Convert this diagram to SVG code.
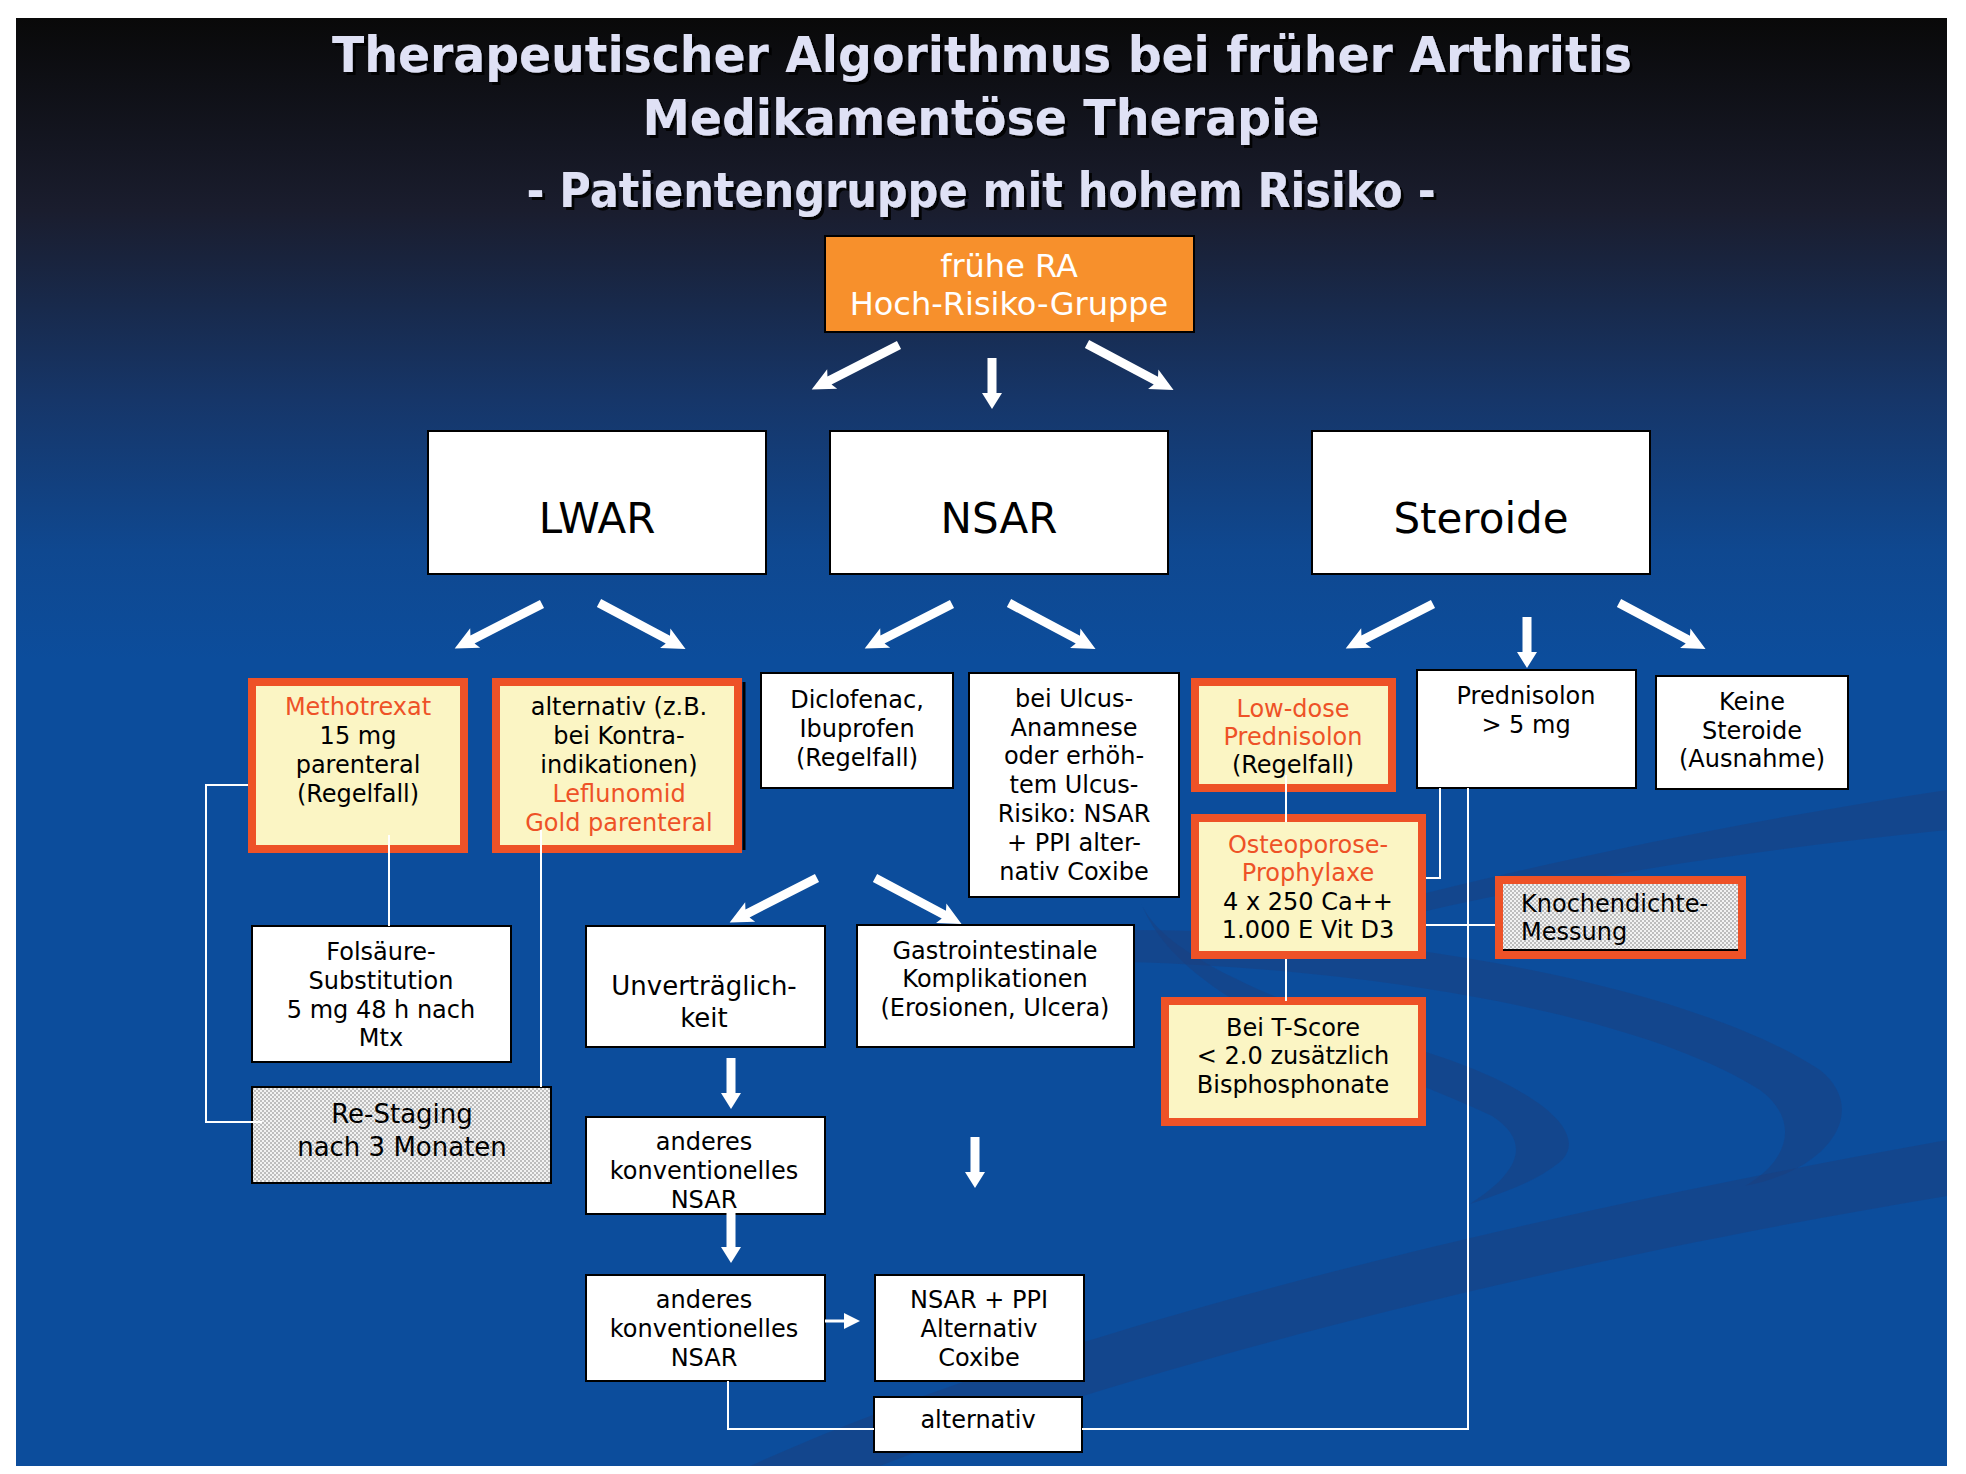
<svg xmlns="http://www.w3.org/2000/svg" xmlns:xlink="http://www.w3.org/1999/xlink" width="1966" height="1474" viewBox="0 0 1966 1474">
<style>
.t{font-family:'DejaVu Sans',Verdana,sans-serif;font-size:24px;fill:#000;text-anchor:middle}
.r{fill:#ee5227}
.big{font-size:42px}
.top{font-size:32px;fill:#fff}
.m{font-size:26px}
.box{fill:#fff;stroke:#000;stroke-width:2}
.obox{fill:#fbf5c4;stroke:#ee5227;stroke-width:8}
.ln{stroke:#fff;stroke-width:2;fill:none}
.arr{fill:#fff}
.title{font-family:'DejaVu Sans',Verdana,sans-serif;font-weight:bold;fill:#dfe1f5;text-anchor:middle;filter:url(#sh)}
.sw{fill:#1d3f7c;opacity:0.45}
</style>
<defs>
<linearGradient id="bg" gradientUnits="userSpaceOnUse" x1="0" y1="18" x2="0" y2="660">
<stop offset="0" stop-color="#090909"/>
<stop offset="0.3" stop-color="#1a1d2e"/>
<stop offset="0.595" stop-color="#163669"/>
<stop offset="0.83" stop-color="#0f4890"/>
<stop offset="1" stop-color="#0c4d9c"/>
</linearGradient>
<filter id="sh" x="-5%" y="-20%" width="110%" height="140%">
<feDropShadow dx="3" dy="3" stdDeviation="0.6" flood-color="#000" flood-opacity="0.9"/>
</filter>
<pattern id="dither" width="4" height="4" patternUnits="userSpaceOnUse">
<rect width="4" height="4" fill="#f2f2f2"/>
<rect width="2" height="2" fill="#bdbdbd"/>
<rect x="2" y="2" width="2" height="2" fill="#bdbdbd"/>
</pattern>
<path id="ad" d="M0,-4.5 H78 L75,-11 L98,0 L75,11 L78,4.5 H0 Z"/>
<path id="av" d="M-4.5,0 V35 H-10 L0,51 L10,35 H4.5 V0 Z"/>
</defs>

<rect width="1966" height="1474" fill="#fff"/>
<rect x="16" y="18" width="1931" height="1448" fill="url(#bg)"/>
<g id="swooshes">
<path class="sw" d="M1380 905 C1550 860 1750 820 1947 790 L1947 830 C1750 850 1550 880 1380 922 Z"/>
<path class="sw" d="M1130 930 C1400 930 1700 990 1820 1070 C1870 1110 1830 1170 1745 1186 C1790 1160 1800 1120 1760 1090 C1650 1020 1400 970 1130 962 Z"/>
<path class="sw" d="M1140 900 C1160 960 1300 1010 1450 1060 C1560 1100 1585 1140 1560 1162 C1535 1182 1505 1192 1470 1204 C1520 1172 1532 1142 1492 1116 C1380 1062 1180 1012 1140 900 Z"/>
<path class="sw" d="M750 1466 C1050 1330 1500 1220 1947 1140 L1947 1196 C1500 1270 1100 1380 880 1466 Z"/>
</g>

<g id="title">
<text class="title" x="982" y="72" font-size="50" textLength="1300" lengthAdjust="spacingAndGlyphs">Therapeutischer Algorithmus bei früher Arthritis</text>
<text class="title" x="981" y="135" font-size="50" textLength="677" lengthAdjust="spacingAndGlyphs">Medikamentöse Therapie</text>
<text class="title" x="981" y="207" font-size="48" textLength="909" lengthAdjust="spacingAndGlyphs">- Patientengruppe mit hohem Risiko -</text>
</g>

<g id="node-fruehe-ra">
<rect x="825" y="236" width="369" height="96" fill="#f7902c" stroke="#000" stroke-width="2"/>
<text class="t top" x="1009" y="277">frühe RA</text>
<text class="t top" x="1009" y="315">Hoch-Risiko-Gruppe</text>
</g>

<g id="node-lwar">
<rect class="box" x="428" y="431" width="338" height="143"/>
<text class="t big" x="597" y="533">LWAR</text>
</g>
<g id="node-nsar">
<rect class="box" x="830" y="431" width="338" height="143"/>
<text class="t big" x="999" y="533">NSAR</text>
</g>
<g id="node-steroide">
<rect class="box" x="1312" y="431" width="338" height="143"/>
<text class="t big" x="1481" y="533">Steroide</text>
</g>

<g id="node-methotrexat">
<rect class="obox" x="252" y="682" width="212" height="167"/>
<text class="t r" x="358" y="715">Methotrexat</text>
<text class="t" x="358" y="744">15 mg</text>
<text class="t" x="358" y="773">parenteral</text>
<text class="t" x="358" y="802">(Regelfall)</text>
</g>

<g id="node-alternativ-lwar">
<line x1="744" y1="682" x2="744" y2="850" stroke="#000" stroke-width="3"/>
<rect class="obox" x="496" y="682" width="242" height="167"/>
<text class="t" x="619" y="715">alternativ (z.B.</text>
<text class="t" x="619" y="744">bei Kontra-</text>
<text class="t" x="619" y="773">indikationen)</text>
<text class="t r" x="619" y="802">Leflunomid</text>
<text class="t r" x="619" y="831">Gold parenteral</text>
</g>

<g id="node-diclofenac">
<rect class="box" x="761" y="673" width="192" height="115"/>
<text class="t" x="857" y="708">Diclofenac,</text>
<text class="t" x="857" y="737">Ibuprofen</text>
<text class="t" x="857" y="766">(Regelfall)</text>
</g>

<g id="node-ulcus">
<rect class="box" x="969" y="673" width="210" height="224"/>
<text class="t" x="1074" y="707">bei Ulcus-</text>
<text class="t" x="1074" y="736">Anamnese</text>
<text class="t" x="1074" y="764">oder erhöh-</text>
<text class="t" x="1074" y="793">tem Ulcus-</text>
<text class="t" x="1074" y="822">Risiko: NSAR</text>
<text class="t" x="1074" y="851">+ PPI alter-</text>
<text class="t" x="1074" y="880">nativ Coxibe</text>
</g>

<g id="node-lowdose">
<rect class="obox" x="1195" y="682" width="197" height="106"/>
<text class="t r" x="1293" y="717">Low-dose</text>
<text class="t r" x="1293" y="745">Prednisolon</text>
<text class="t" x="1293" y="773">(Regelfall)</text>
</g>

<g id="node-prednisolon">
<rect class="box" x="1417" y="670" width="219" height="118"/>
<text class="t" x="1526" y="704">Prednisolon</text>
<text class="t" x="1526" y="733">&gt; 5 mg</text>
</g>

<g id="node-keine">
<rect class="box" x="1656" y="676" width="192" height="113"/>
<text class="t" x="1752" y="710">Keine</text>
<text class="t" x="1752" y="739">Steroide</text>
<text class="t" x="1752" y="767">(Ausnahme)</text>
</g>

<g id="node-osteoporose">
<rect class="obox" x="1195" y="818" width="227" height="137"/>
<text class="t r" x="1308" y="853">Osteoporose-</text>
<text class="t r" x="1308" y="881">Prophylaxe</text>
<text class="t" x="1308" y="910">4 x 250 Ca++</text>
<text class="t" x="1308" y="938">1.000 E Vit D3</text>
</g>

<g id="node-tscore">
<rect class="obox" x="1165" y="1001" width="257" height="121"/>
<text class="t" x="1293" y="1036">Bei T-Score</text>
<text class="t" x="1293" y="1064">&lt; 2.0 zusätzlich</text>
<text class="t" x="1293" y="1093">Bisphosphonate</text>
</g>

<g id="node-knochendichte">
<rect x="1499" y="880" width="243" height="75" fill="url(#dither)" stroke="#ee5227" stroke-width="8"/>
<line x1="1503" y1="950" x2="1738" y2="950" stroke="#000" stroke-width="2"/>
<text class="t" x="1521" y="912" style="text-anchor:start">Knochendichte-</text>
<text class="t" x="1521" y="940" style="text-anchor:start">Messung</text>
</g>

<g id="node-folsaeure">
<rect class="box" x="252" y="926" width="259" height="136"/>
<text class="t" x="381" y="960">Folsäure-</text>
<text class="t" x="381" y="989">Substitution</text>
<text class="t" x="381" y="1018">5 mg 48 h nach</text>
<text class="t" x="381" y="1046">Mtx</text>
</g>

<g id="node-restaging">
<rect x="252" y="1087" width="299" height="96" fill="url(#dither)" stroke="#000" stroke-width="2"/>
<text class="t m" x="402" y="1123">Re-Staging</text>
<text class="t m" x="402" y="1156">nach 3 Monaten</text>
</g>

<g id="node-unvertraeglichkeit">
<rect class="box" x="586" y="926" width="239" height="121"/>
<text class="t m" x="704" y="995">Unverträglich-</text>
<text class="t m" x="704" y="1027">keit</text>
</g>

<g id="node-gastro">
<rect class="box" x="857" y="925" width="277" height="122"/>
<text class="t" x="995" y="959">Gastrointestinale</text>
<text class="t" x="995" y="987">Komplikationen</text>
<text class="t" x="995" y="1016">(Erosionen, Ulcera)</text>
</g>

<g id="node-anderes1">
<rect class="box" x="586" y="1117" width="239" height="97"/>
<text class="t" x="704" y="1150">anderes</text>
<text class="t" x="704" y="1179">konventionelles</text>
<text class="t" x="704" y="1208">NSAR</text>
</g>

<g id="node-anderes2">
<rect class="box" x="586" y="1275" width="239" height="106"/>
<text class="t" x="704" y="1308">anderes</text>
<text class="t" x="704" y="1337">konventionelles</text>
<text class="t" x="704" y="1366">NSAR</text>
</g>

<g id="node-nsar-ppi">
<rect class="box" x="875" y="1275" width="209" height="106"/>
<text class="t" x="979" y="1308">NSAR + PPI</text>
<text class="t" x="979" y="1337">Alternativ</text>
<text class="t" x="979" y="1366">Coxibe</text>
</g>

<g id="node-alternativ">
<rect class="box" x="874" y="1397" width="208" height="55"/>
<text class="t" x="978" y="1428">alternativ</text>
</g>

<g id="connectors">
<g class="arr">
<use href="#ad" transform="translate(899,345) rotate(153)"/>
<use href="#av" transform="translate(992,358)"/>
<use href="#ad" transform="translate(1087,344) rotate(28)"/>
<use href="#ad" transform="translate(542,604) rotate(153)"/>
<use href="#ad" transform="translate(599,603) rotate(28)"/>
<use href="#ad" transform="translate(952,604) rotate(153)"/>
<use href="#ad" transform="translate(1009,603) rotate(28)"/>
<use href="#ad" transform="translate(1433,604) rotate(153)"/>
<use href="#av" transform="translate(1527,617)"/>
<use href="#ad" transform="translate(1619,603) rotate(28)"/>
<use href="#ad" transform="translate(817,878) rotate(153)"/>
<use href="#ad" transform="translate(875,878) rotate(28)"/>
<use href="#av" transform="translate(731,1058)"/>
<use href="#av" transform="translate(975,1137)"/>
<use href="#av" transform="translate(731,1212)"/>
<rect x="825" y="1319.5" width="20" height="3"/>
<polygon points="844,1313 860,1321 844,1329"/>
</g>
<polyline class="ln" points="248,785 206,785 206,1122 262,1122"/>
<line class="ln" x1="389" y1="835" x2="389" y2="926"/>
<line class="ln" x1="541" y1="830" x2="541" y2="1087"/>
<line class="ln" x1="1286" y1="775" x2="1286" y2="822"/>
<line class="ln" x1="1286" y1="959" x2="1286" y2="1001"/>
<polyline class="ln" points="1440,788 1440,878 1426,878"/>
<line class="ln" x1="1426" y1="925" x2="1495" y2="925"/>
<polyline class="ln" points="1468,788 1468,1429 1082,1429"/>
<polyline class="ln" points="728,1381 728,1429 874,1429"/>
</g>
</svg>
